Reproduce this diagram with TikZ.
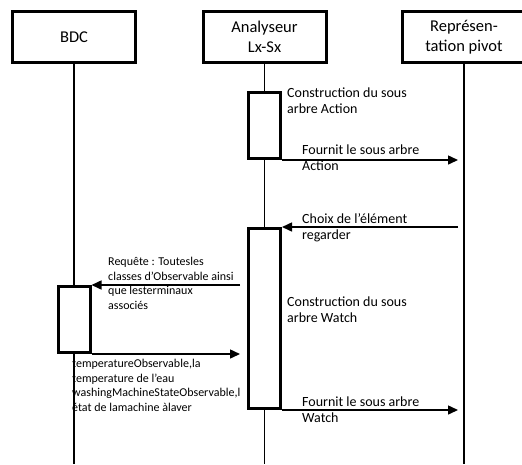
\documentclass[tikz,border=0pt]{standalone}
\usepackage{fontspec}
\setmainfont{Carlito}
\usetikzlibrary{arrows.meta,positioning,calc}

\begin{document}
\begin{tikzpicture}[x=1pt, y=-1pt,
    head/.style={draw, line width=3pt, minimum width=123pt, minimum height=51pt, align=center, font=\fontsize{16.5}{20}\selectfont, fill=white},
    act/.style={draw, line width=3pt, minimum width=32pt, fill=white},
    life/.style={line width=1.5pt},
    msg/.style={-{Triangle[length=10pt,width=9pt]}, line width=1.5pt},
    lbl/.style={anchor=north west, inner sep=0pt, align=left, font=\fontsize{14}{16}\selectfont},
    lblsmall/.style={lbl, font=\fontsize{12}{14.5}\selectfont},
]
    \useasboundingbox (0,0) rectangle (522,464);
    \node[head] (bdc)   at (74,37)    {BDC};
    \node[head] (anal)  at (264.5,37) {Analyseur\\Lx-Sx};
    \node[head] (pivot) at (464,37)   {Représen-\\tation pivot};

    \coordinate (bdcend)   at (74,464);
    \coordinate (analend)  at (264.5,464);
    \coordinate (pivotend) at (464,464);
    \draw[life] (bdc.south)   -- (bdcend);
    \draw[life] (anal.south)  -- (analend);
    \draw[life] (pivot.south) -- (pivotend);

    \node[act, minimum height=66pt]  (act1) at (264.5,125.5) {};
    \node[act, minimum height=180pt] (act2) at (264.5,318.5) {};
    \node[act, minimum height=66pt]  (act3) at (74,319.5)    {};

    \node[lbl] (cons1) at (287,88)  {Construction du sous\\arbre Action};
    \node[lbl] (four1) at (302,145) {Fournit le sous arbre\\Action};
    \node[lbl] (choix) at (302,213) {Choix de l’élément\\regarder};
    \node[lbl] (cons2) at (287,297) {Construction du sous\\arbre Watch};
    \node[lbl] (four2) at (302,397) {Fournit le sous arbre\\Watch};
    \node[lblsmall] (req) at (108,257) {Requête : Toutesles\\classes d’Observable ainsi\\que lesterminaux\\associés};
    \node[lblsmall] (rep) at (72,359)  {temperatureObservable,la\\temperature de l’eau\\washingMachineStateObservable,l\\état de lamachine àlaver};

    \draw[msg, shorten >=6pt] (act1.south east) -- (act1.south east -| pivot);
    \draw[msg, shorten <=6pt] (act2.north east -| pivot) -- (act2.north east);
    \draw[msg, shorten <=7pt] (act2.west |- act3.north) -- (act3.north east);
    \draw[msg, shorten >=7pt] (act3.south east) -- (act2.west |- act3.south);
    \draw[msg, shorten >=6pt] (act2.south east) -- (act2.south east -| pivot);
\end{tikzpicture}
\end{document}
